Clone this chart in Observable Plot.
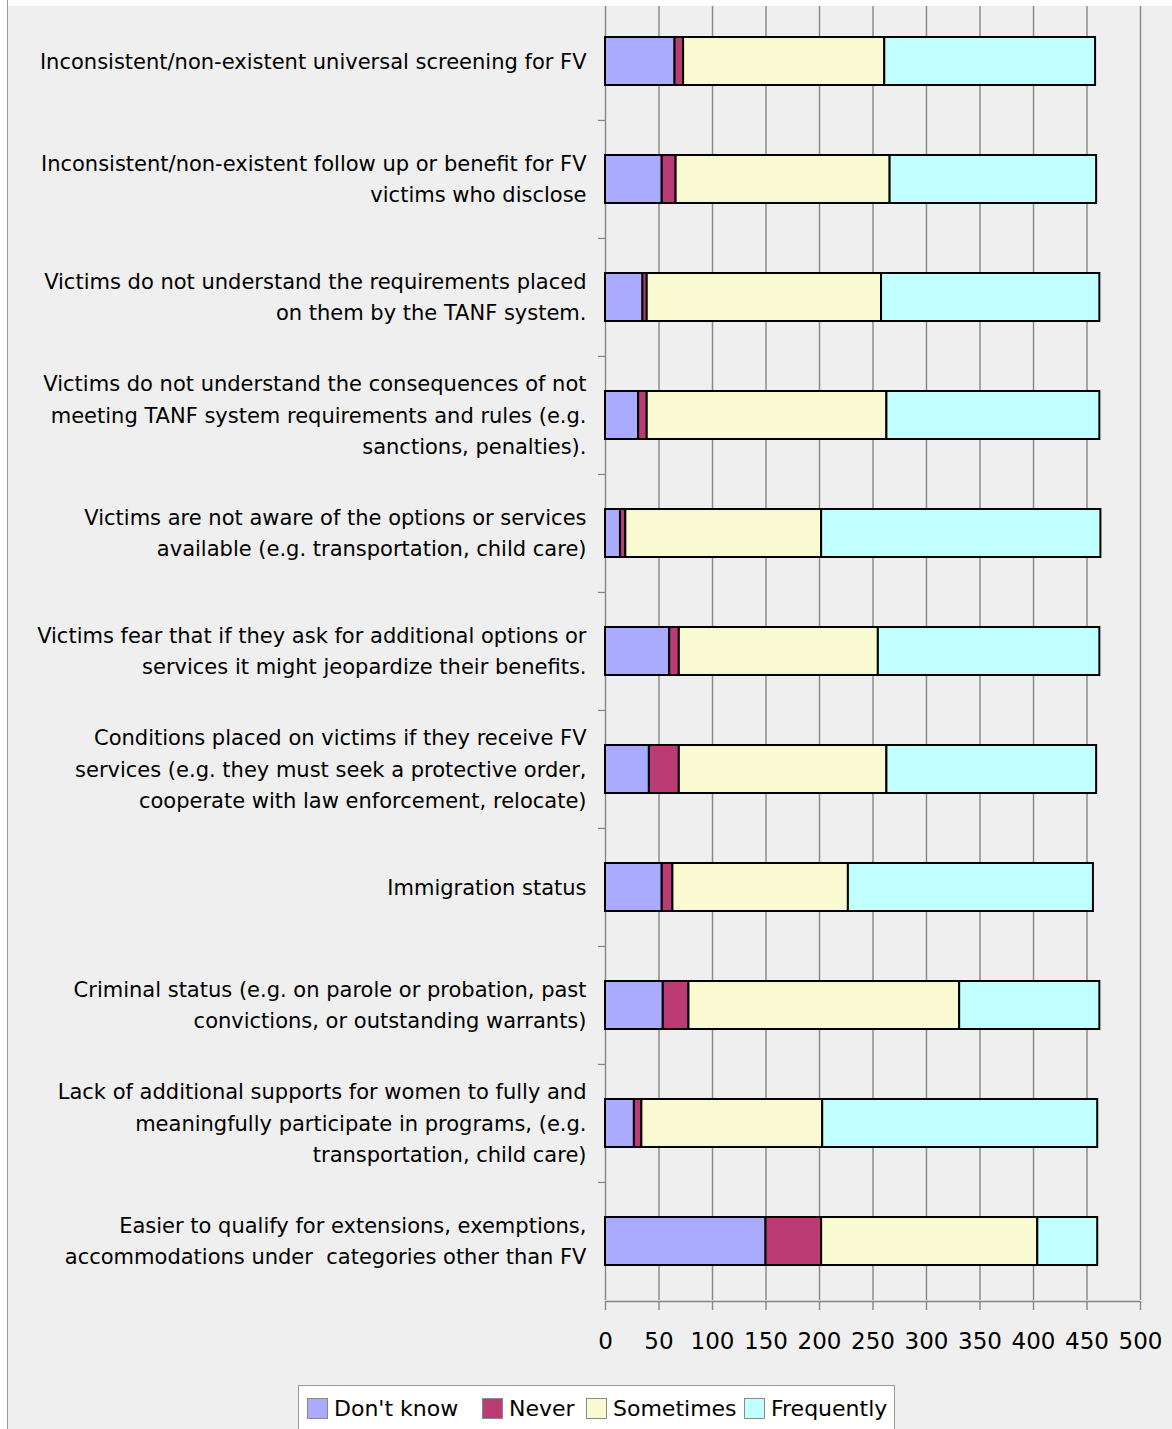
<!DOCTYPE html>
<html>
<head>
<meta charset="utf-8">
<script src="https://cdn.jsdelivr.net/npm/d3@7"></script>
<script src="https://cdn.jsdelivr.net/npm/@observablehq/plot@0.6"></script>
<style>
  body { margin: 0; background: #fff; font-family: "DejaVu Sans", sans-serif; }
  #wrap { position: relative; width: 1172px; height: 1429px; background: #efefef; overflow: hidden; }
  #chart { position: absolute; left: 0; top: 0; }
  .mask { position: absolute; background: #fff; z-index: 5; }
  #maskTop { left: 0; top: 0; width: 1172px; height: 6px; }
  #maskLeft { left: 0; top: 0; width: 7px; height: 1429px; border-right: 1px solid #9a9a9a; }
  #legend { position: absolute; left: 298px; top: 1385px; width: 597px; height: 50px; background: #fff;
            border: 1px solid #9a9a9a; box-sizing: border-box; white-space: nowrap; }
  .item { position: absolute; top: 9px; display: flex; align-items: center; font-size: 22px; color: #000; line-height: 27px; white-space: nowrap; }
  .sw { width: 21px; height: 21px; box-sizing: border-box; border: 1px solid #8a8a8a; margin-right: 6px; flex: none; }
</style>
</head>
<body>
<div id="wrap">
  <div id="chart"></div>
  <div id="legend"></div>
  <div class="mask" id="maskTop"></div>
  <div class="mask" id="maskLeft"></div>
</div>
<script>
const categories = [
  "Inconsistent/non-existent universal screening for FV",
  "Inconsistent/non-existent follow up or benefit for FV\nvictims who disclose",
  "Victims do not understand the requirements placed\non them by the TANF system.",
  "Victims do not understand the consequences of not\nmeeting TANF system requirements and rules (e.g.\nsanctions, penalties).",
  "Victims are not aware of the options or services\navailable (e.g. transportation, child care)",
  "Victims fear that if they ask for additional options or\nservices it might jeopardize their benefits.",
  "Conditions placed on victims if they receive FV\nservices (e.g. they must seek a protective order,\ncooperate with law enforcement, relocate)",
  "Immigration status",
  "Criminal status (e.g. on parole or probation, past\nconvictions, or outstanding warrants)",
  "Lack of additional supports for women to fully and\nmeaningfully participate in programs, (e.g.\ntransportation, child care)",
  "Easier to qualify for extensions, exemptions,\naccommodations under  categories other than FV"
];
const responses = ["Don't know", "Never", "Sometimes", "Frequently"];
const dontKnow   = [65, 53, 35, 31, 14, 60, 41, 53, 54, 27, 150];
const never      = [8, 13, 4, 8, 5, 9, 28, 10, 24, 7, 52];
const sometimes  = [188, 200, 219, 224, 183, 186, 194, 164, 253, 169, 202];
const frequently = [197, 193, 204, 199, 261, 207, 196, 229, 131, 257, 56];
const xTicks = [0, 50, 100, 150, 200, 250, 300, 350, 400, 450, 500];
const colors = ["#aaaaff", "#bb3b74", "#fafad2", "#c2ffff"];

const series = [dontKnow, never, sometimes, frequently];
const table = [];
categories.forEach((c, i) => {
  responses.forEach((r, j) => table.push({category: c, response: r, value: series[j][i]}));
});

const W = 1172, H = 1360, mt = 1, mb = 60, ml = 605, mr = 32;
const step = (H - mt - mb) / categories.length;
const gridColor = "#858585";

const chart = Plot.plot({
  width: W, height: H,
  marginTop: mt, marginBottom: mb, marginLeft: ml, marginRight: mr,
  style: {background: "transparent", fontFamily: "DejaVu Sans", color: "#000", overflow: "visible"},
  x: {domain: [0, 500]},
  y: {domain: categories, padding: 0},
  color: {domain: responses, range: colors},
  marks: [
    Plot.gridX(xTicks, {stroke: gridColor, strokeOpacity: 1, strokeWidth: 1.4}),
    Plot.ruleY([categories[categories.length - 1]], {x1: 0, x2: 500, dy: step / 2 + 1, stroke: gridColor, strokeWidth: 1.4}),
    Plot.barX(table, Plot.stackX({x: "value", y: "category", fill: "response",
      stroke: "#000", strokeWidth: 2, insetTop: 35, insetBottom: 35})),
    Plot.axisX(xTicks, {tickSize: 9, tickPadding: 22, fontSize: 23, stroke: gridColor, strokeWidth: 1.4, label: null, dy: 1}),
    Plot.axisY({tickSize: 7, tickFormat: () => "", dy: -step / 2, stroke: gridColor, strokeWidth: 1.2, label: null}),
    Plot.axisY({tickSize: 0, tickPadding: 19, fontSize: 21, lineHeight: 1.5, label: null, fill: "#000", dy: -3})
  ]
});
document.getElementById("chart").appendChild(chart);

const legend = document.getElementById("legend");
const legendLeft = [8, 183, 287, 445];
responses.forEach((r, j) => {
  const it = document.createElement("div");
  it.className = "item";
  it.style.left = legendLeft[j] + "px";
  const sw = document.createElement("div");
  sw.className = "sw";
  sw.style.background = colors[j];
  const t = document.createElement("span");
  t.textContent = r;
  it.appendChild(sw); it.appendChild(t);
  legend.appendChild(it);
});
</script>
</body>
</html>
